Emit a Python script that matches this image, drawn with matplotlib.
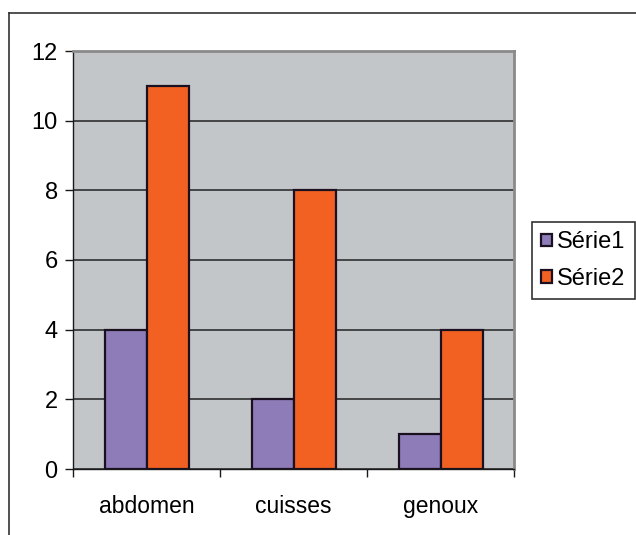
import matplotlib
matplotlib.use("Agg")
import matplotlib.pyplot as plt  # noqa: E402
import numpy as np  # noqa: E402
from matplotlib.lines import Line2D  # noqa: E402

categories = ["abdomen", "cuisses", "genoux"]
serie1 = [4, 2, 1]
serie2 = [11, 8, 4]
series_names = ["Série1", "Série2"]
yticks = [0, 2, 4, 6, 8, 10, 12]

PURPLE = "#8E7CB8"
ORANGE = "#F26122"
PLOT_BG = "#C3C6C9"

plt.rcParams.update({"font.family": ["Liberation Sans", "DejaVu Sans"], "font.size": 16})

W, H = 636, 535
fig = plt.figure(figsize=(W / 100, H / 100), dpi=100)
fig.patch.set_facecolor("white")

# outer chart frame (only top and left edges visible)
fig.add_artist(Line2D([9 / W, 9 / W], [0, 1 - 13 / H], color="#333333", lw=1.2, transform=fig.transFigure))
fig.add_artist(Line2D([9 / W, 1], [1 - 13 / H, 1 - 13 / H], color="#333333", lw=1.2, transform=fig.transFigure))

x0, x1, y0, y1 = 73, 514, 51, 469
ax = fig.add_axes([x0 / W, 1 - y1 / H, (x1 - x0) / W, (y1 - y0) / H])
ax.set_facecolor(PLOT_BG)

x = np.arange(len(categories))
bw = 42 / 147
ax.bar(x - bw / 2, serie1, bw, color=PURPLE, edgecolor="#1a1020", lw=1.6, label=series_names[0], zorder=3)
ax.bar(x + bw / 2, serie2, bw, color=ORANGE, edgecolor="#1a1020", lw=1.6, label=series_names[1], zorder=3)

ax.set_xlim(-0.5, len(categories) - 0.5)
ax.set_ylim(0, 12)
ax.set_yticks(yticks)
ax.yaxis.grid(True, color="#222222", lw=1.1, zorder=1)
ax.set_axisbelow(True)

ax.set_xticks(x)
ax.set_xticklabels(categories, fontsize=16.5)
ax.set_xticks(np.arange(len(categories) + 1) - 0.5, minor=True)
ax.tick_params(axis="x", which="major", length=0, pad=19)
ax.tick_params(axis="x", which="minor", length=6, width=1, color="#1a1a1a", direction="out")
ax.tick_params(axis="y", length=6, width=1, color="#1a1a1a", direction="out", pad=5, labelsize=17)

for s in ("top", "right"):
    ax.spines[s].set_color("#8a8a8a")
    ax.spines[s].set_linewidth(2)
ax.spines["left"].set_color("#1a1a1a")
ax.spines["bottom"].set_color("#1a1a1a")
ax.spines["left"].set_linewidth(1)
ax.spines["bottom"].set_linewidth(1)

leg = fig.legend(loc="upper left", bbox_to_anchor=(532 / W, 1 - 222 / H), frameon=True, fancybox=False,
                 edgecolor="black", fontsize=17, handlelength=0.45, handleheight=0.45, handletextpad=0.2,
                 borderpad=0.4, labelspacing=0.6, borderaxespad=0)
leg.get_frame().set_linewidth(1.2)

fig.savefig("out.png", dpi=100)
